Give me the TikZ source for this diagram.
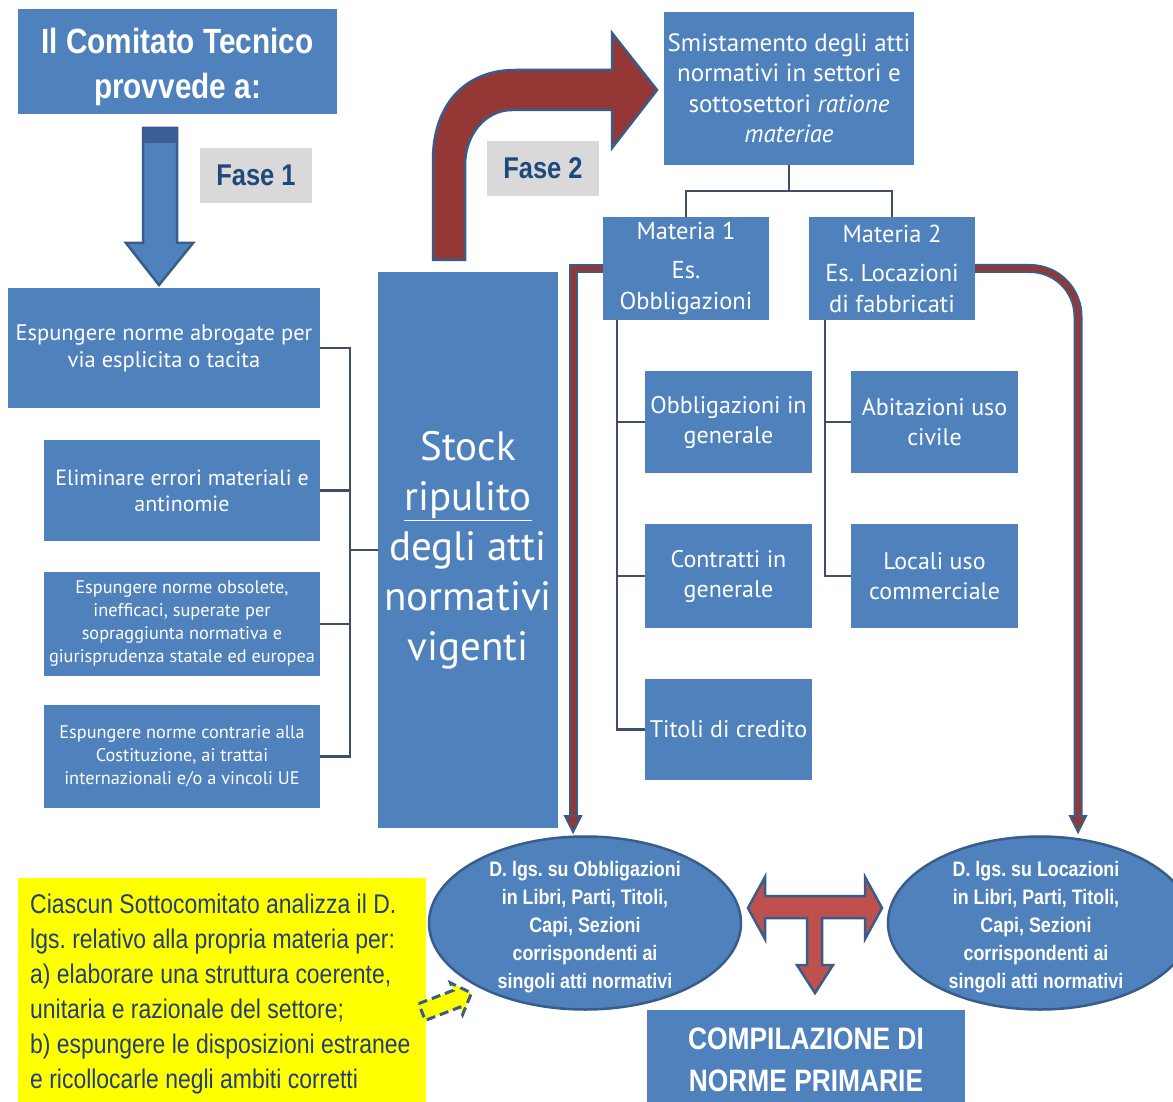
\documentclass[tikz,border=0pt]{standalone}
\usepackage{fontspec}
\setmainfont{Liberation Sans}
\newfontfamily\narrowf[FakeStretch=0.85]{Liberation Sans}
\newfontfamily\humf{PT Sans}
\usetikzlibrary{shapes.geometric}
\frenchspacing
\definecolor{boxblue}{HTML}{4F81BD}
\definecolor{edgeblue}{HTML}{385D8A}
\definecolor{capblue}{HTML}{3B5F95}
\definecolor{darkred}{HTML}{953735}
\definecolor{tred}{HTML}{C0504D}
\definecolor{labgray}{HTML}{D9D9D9}
\definecolor{labtext}{HTML}{1F497D}
\definecolor{ytext}{HTML}{213E7A}
\definecolor{connc}{HTML}{404E68}
\definecolor{pureyellow}{RGB}{255,255,0}
\begin{document}
\begin{tikzpicture}[x=1pt,y=-1pt,
  bbox/.style={fill=boxblue, inner sep=0pt, align=center, text=white},
  hbox/.style={bbox, font=\humf},
  plaintext/.style={inner sep=0pt, align=center, text=white},
  labbox/.style={fill=labgray, inner sep=0pt, text=labtext, font=\narrowf\bfseries\fontsize{30}{34}\selectfont},
  conn/.style={draw=connc, line width=2.5pt},
  ell/.style={ellipse, fill=boxblue, draw=edgeblue, line width=2.5pt, inner sep=0pt},
  elltext/.style={align=center, text=white, font=\narrowf\bfseries\fontsize{21}{28}\selectfont},
  blockred/.style={fill=darkred, draw=edgeblue, line width=2.5pt, line join=miter},
  thinout/.style={draw=edgeblue, line width=9pt},
  thinin/.style={draw=darkred, line width=5pt}
]
\useasboundingbox (0,0) rectangle (1173,1102);
\clip (0,0) rectangle (1173,1102);
\fill[white] (0,0) rectangle (1173,1102);

% title
\node[bbox, minimum width=319pt, minimum height=105pt] (title) at (177.5,61.5) {};
\node[plaintext, font=\narrowf\bfseries\fontsize{35}{45}\selectfont] (titlet) at (177.5,67) {Il Comitato Tecnico\\provvede a:};

% Fase 1 arrow
\filldraw[fill=boxblue, draw=edgeblue, line width=2.5pt, line join=miter]
  (143,128) -- (177,128) -- (177,243) -- (193,243) -- (159,285) -- (126,243) -- (143,243) -- cycle;
\filldraw[fill=capblue, draw=edgeblue, line width=1pt] (143,128) rectangle (177,143);
\node[labbox, minimum width=112pt, minimum height=55pt] (fase1) at (256,175.5) {Fase 1};

% Fase 2 arrow
\filldraw[blockred]
  (433,260) -- (433,160) .. controls (433,105) and (465,70) .. (515,70) -- (612,70) -- (612,33) -- (657,90) -- (612,148) -- (612,110) -- (512,110) .. controls (485,110) and (465,135) .. (465,165) -- (465,260) -- cycle;
\node[labbox, minimum width=112pt, minimum height=55pt] (fase2) at (543,168.5) {Fase 2};

% left boxes
\node[hbox, minimum width=312pt, minimum height=120pt, font=\humf\fontsize{22.5}{27}\selectfont] (b1) at (164,348) {Espungere norme abrogate per\\via esplicita o tacita};
\node[hbox, minimum width=276pt, minimum height=101pt, font=\humf\fontsize{22}{26}\selectfont] (b2) at (182,490.5) {Eliminare errori materiali e\\antinomie};
\node[hbox, minimum width=276pt, minimum height=104pt, font=\humf\fontsize{18.3}{23}\selectfont] (b3) at (182,624) {Espungere norme obsolete,\\inefficaci, superate per\\sopraggiunta normativa e\\giurisprudenza statale ed europea};
\node[hbox, minimum width=276pt, minimum height=103pt, font=\humf\fontsize{18.3}{23}\selectfont] (b4) at (182,756.5) {Espungere norme contrarie alla\\Costituzione, ai trattai\\internazionali e/o a vincoli UE};

% stock
\node[hbox, minimum width=180pt, minimum height=556pt, font=\humf\fontsize{41}{50}\selectfont] (stock) at (468,550) {Stock\\\underline{ripulito}\\degli atti\\normativi\\vigenti};

% bracket
\coordinate (bx) at (350,0);
\draw[conn] (b1.east) -- (b1.east -| bx) -- (b4.east -| bx) -- (b4.east);
\draw[conn] (b2.east) -- (b2.east -| bx);
\draw[conn] (b3.east) -- (b3.east -| bx);
\draw[conn] (stock.west) -- (stock.west -| bx);

% smistamento
\node[hbox, minimum width=250pt, minimum height=153pt, font=\humf\fontsize{25}{30.5}\selectfont] (smist) at (789,88.5) {Smistamento degli atti\\normativi in settori e\\sottosettori \textit{ratione}\\\textit{materiae}};

% materia
\node[hbox, minimum width=166pt, minimum height=103pt, font=\humf\fontsize{24.5}{31}\selectfont] (m1) at (686,268.5) {Materia 1\\[8pt]Es.\\Obbligazioni};
\node[hbox, minimum width=166pt, minimum height=103pt, font=\humf\fontsize{24.5}{31}\selectfont] (m2) at (892,268.5) {Materia 2\\[8pt]Es. Locazioni\\di fabbricati};

\draw[conn] (smist.south) -- ++(0,26) coordinate (tj);
\draw[conn] (m1.north) |- (tj) -| (m2.north);

% sub boxes
\node[hbox, minimum width=167pt, minimum height=102pt, font=\humf\fontsize{24}{30}\selectfont] (s11) at (728.5,422) {Obbligazioni in\\generale};
\node[hbox, minimum width=167pt, minimum height=104pt, font=\humf\fontsize{24}{30}\selectfont] (s12) at (728.5,576) {Contratti in\\generale};
\node[hbox, minimum width=167pt, minimum height=101pt, font=\humf\fontsize{24}{30}\selectfont] (s13) at (728.5,729.5) {Titoli di credito};
\node[hbox, minimum width=167pt, minimum height=102pt, font=\humf\fontsize{24}{30}\selectfont] (s21) at (934.5,422) {Abitazioni uso\\civile};
\node[hbox, minimum width=167pt, minimum height=104pt, font=\humf\fontsize{24}{30}\selectfont] (s22) at (934.5,576) {Locali uso\\commerciale};

\coordinate (c1) at (617,0);
\coordinate (c2) at (825,0);
\draw[conn] (m1.south -| c1) -- (s13.west -| c1) -- (s13.west);
\draw[conn] (s11.west -| c1) -- (s11.west);
\draw[conn] (s12.west -| c1) -- (s12.west);
\draw[conn] (m2.south -| c2) -- (s22.west -| c2) -- (s22.west);
\draw[conn] (s21.west -| c2) -- (s21.west);

% ellipses
\node[ell, minimum width=312pt, minimum height=173pt] (e1) at (585,923) {};
\node[elltext] (e1t) at (585,927) {D. lgs. su Obbligazioni\\in Libri, Parti, Titoli,\\Capi, Sezioni\\corrispondenti ai\\singoli atti normativi};
\node[ell, minimum width=304pt, minimum height=173pt] (e2) at (1040,923) {};
\node[elltext] (e2t) at (1036,927) {D. lgs. su Locazioni\\in Libri, Parti, Titoli,\\Capi, Sezioni\\corrispondenti ai\\singoli atti normativi};

% thin red arrows
\coordinate (la) at (573,818);
\coordinate (ra) at (1078,818);
\draw[thinout, line join=miter] (m1.west) -| (la);
\draw[thinin, line join=miter] (m1.west) -| (la);
\filldraw[fill=darkred, draw=edgeblue, line width=2pt, line join=miter] (565,816) -- (581,816) -- (573,832) -- cycle;
\draw[thinout, rounded corners=48pt] (m2.east) -| (ra);
\draw[thinin, rounded corners=48pt] (m2.east) -| (ra);
\filldraw[fill=darkred, draw=edgeblue, line width=2pt, line join=miter] (1070,816) -- (1086,816) -- (1078,832) -- cycle;

% T arrow
\filldraw[fill=tred, draw=edgeblue, line width=2.5pt, line join=miter]
  (748,908) -- (765,877) -- (765,896) -- (865,896) -- (865,877) -- (882,908) -- (865,939) -- (865,918) -- (822,918) -- (822,965) -- (833,965) -- (815,993) -- (797,965) -- (807,965) -- (807,918) -- (765,918) -- (765,939) -- cycle;

% compilazione
\node[bbox, minimum width=318pt, minimum height=92pt] (comp) at (806,1056) {};
\node[plaintext, font=\narrowf\bfseries\fontsize{31}{42}\selectfont] (compt) at (806,1060) {COMPILAZIONE DI\\NORME PRIMARIE};

% yellow box
\node[fill=pureyellow, inner sep=0pt, minimum width=408pt, minimum height=224pt] (ybox) at (222,990) {};
\node[inner sep=0pt, anchor=west, align=left, text=ytext, font=\narrowf\fontsize{27}{35}\selectfont] (yboxt) at (30,994) {Ciascun Sottocomitato analizza il D.\\lgs. relativo alla propria materia per:\\a) elaborare una struttura coerente,\\unitaria e razionale del settore;\\b) espungere le disposizioni estranee\\e ricollocarle negli ambiti corretti};

% yellow dashed arrow
\begin{scope}[shift={(422,1012)}, rotate=21]
\filldraw[fill=pureyellow, draw=edgeblue, line width=3pt, dash pattern=on 9pt off 5pt, line join=miter]
  (0,-9) -- (37,-9) -- (37,-17) -- (53,0) -- (37,17) -- (37,9) -- (0,9) -- cycle;
\end{scope}
\end{tikzpicture}
\end{document}
